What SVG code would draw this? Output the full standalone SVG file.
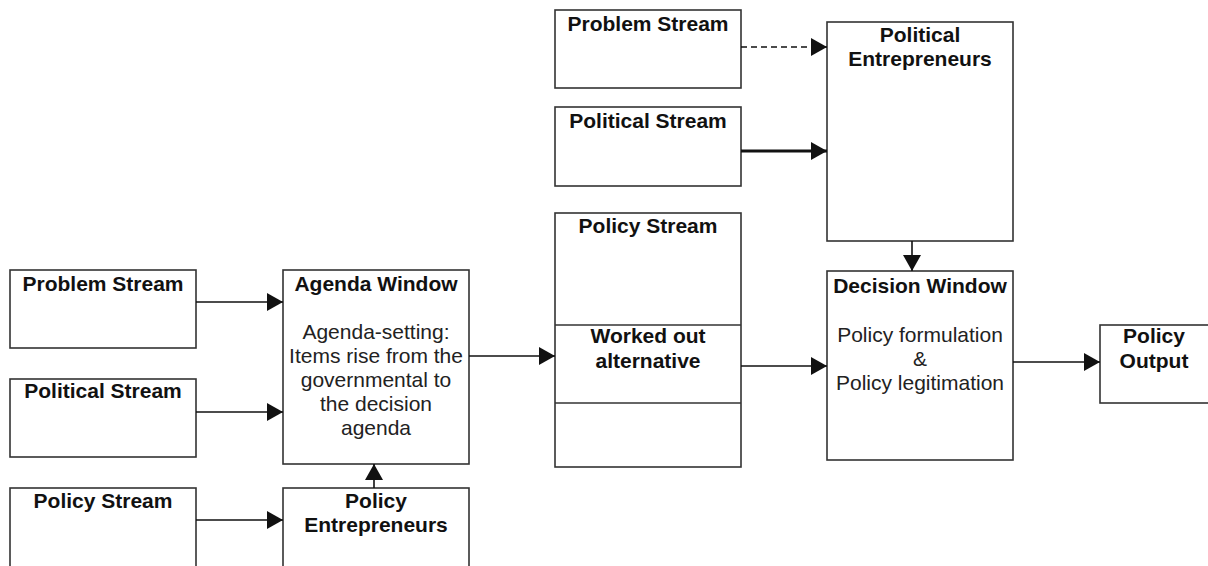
<svg xmlns="http://www.w3.org/2000/svg" width="1208" height="566" viewBox="0 0 1208 566">
<defs>
<marker id="ah" markerUnits="userSpaceOnUse" markerWidth="17" markerHeight="19" refX="16" refY="9" orient="auto">
<path d="M0,0 L16,9 L0,18 z" fill="#111"/>
</marker>
<style>
.box{fill:#fff;stroke:#333;stroke-width:1.6}
.t{font-family:"Liberation Sans",Arial,sans-serif;font-size:21px;font-weight:bold;fill:#111;text-anchor:middle}
.r{font-family:"Liberation Sans",Arial,sans-serif;font-size:21px;fill:#222;text-anchor:middle}
.c{fill:none;stroke:#111;stroke-width:1.6}
.thick{stroke-width:3.2}
</style>
</defs>
<rect width="1208" height="566" fill="#fff"/>
<g id="left-problem"><rect class="box" x="10" y="270" width="186" height="78"/><text class="t" x="103" y="291">Problem Stream</text></g>
<g id="left-political"><rect class="box" x="10" y="379" width="186" height="78"/><text class="t" x="103" y="398">Political Stream</text></g>
<g id="left-policy"><rect class="box" x="10" y="488" width="186" height="82"/><text class="t" x="103" y="508">Policy Stream</text></g>
<g id="agenda-window"><rect class="box" x="283" y="270" width="186" height="194"/><text class="t" x="376" y="291">Agenda Window</text>
<text class="r" x="376" y="339">Agenda-setting:</text><text class="r" x="376" y="363">Items rise from the</text><text class="r" x="376" y="387">governmental to</text><text class="r" x="376" y="411">the decision</text><text class="r" x="376" y="435">agenda</text></g>
<g id="policy-entrepreneurs"><rect class="box" x="283" y="488" width="186" height="82"/><text class="t" x="376" y="508">Policy</text><text class="t" x="376" y="532">Entrepreneurs</text></g>
<g id="top-problem"><rect class="box" x="555" y="10" width="186" height="78"/><text class="t" x="648" y="31">Problem Stream</text></g>
<g id="top-political"><rect class="box" x="555" y="107" width="186" height="79"/><text class="t" x="648" y="128">Political Stream</text></g>
<g id="political-entrepreneurs"><rect class="box" x="827" y="22" width="186" height="219"/><text class="t" x="920" y="42">Political</text><text class="t" x="920" y="66">Entrepreneurs</text></g>
<g id="mid-policy"><rect class="box" x="555" y="213" width="186" height="254"/><line class="box" x1="555" y1="325" x2="741" y2="325"/><line class="box" x1="555" y1="403" x2="741" y2="403"/><text class="t" x="648" y="233">Policy Stream</text><text class="t" x="648" y="343">Worked out</text><text class="t" x="648" y="368">alternative</text></g>
<g id="decision-window"><rect class="box" x="827" y="271" width="186" height="189"/><text class="t" x="920" y="293">Decision Window</text><text class="r" x="920" y="342">Policy formulation</text><text class="r" x="920" y="366">&amp;</text><text class="r" x="920" y="390">Policy legitimation</text></g>
<g id="policy-output"><rect class="box" x="1100" y="325" width="110" height="78"/><text class="t" x="1154" y="343">Policy</text><text class="t" x="1154" y="368">Output</text></g>
<g id="connectors">
<line class="c" x1="196" y1="302" x2="283" y2="302" marker-end="url(#ah)"/>
<line class="c" x1="196" y1="412" x2="283" y2="412" marker-end="url(#ah)"/>
<line class="c" x1="196" y1="520" x2="283" y2="520" marker-end="url(#ah)"/>
<line class="c" x1="374" y1="488" x2="374" y2="464" marker-end="url(#ah)"/>
<line class="c" x1="469" y1="356" x2="555" y2="356" marker-end="url(#ah)"/>
<line class="c" x1="741" y1="47" x2="827" y2="47" stroke-dasharray="6,4" marker-end="url(#ah)"/>
<line class="c thick" x1="741" y1="151" x2="827" y2="151" marker-end="url(#ah)"/>
<line class="c" x1="912" y1="241" x2="912" y2="271" marker-end="url(#ah)"/>
<line class="c" x1="741" y1="366" x2="827" y2="366" marker-end="url(#ah)"/>
<line class="c" x1="1013" y1="362" x2="1100" y2="362" marker-end="url(#ah)"/>
</g>
</svg>
